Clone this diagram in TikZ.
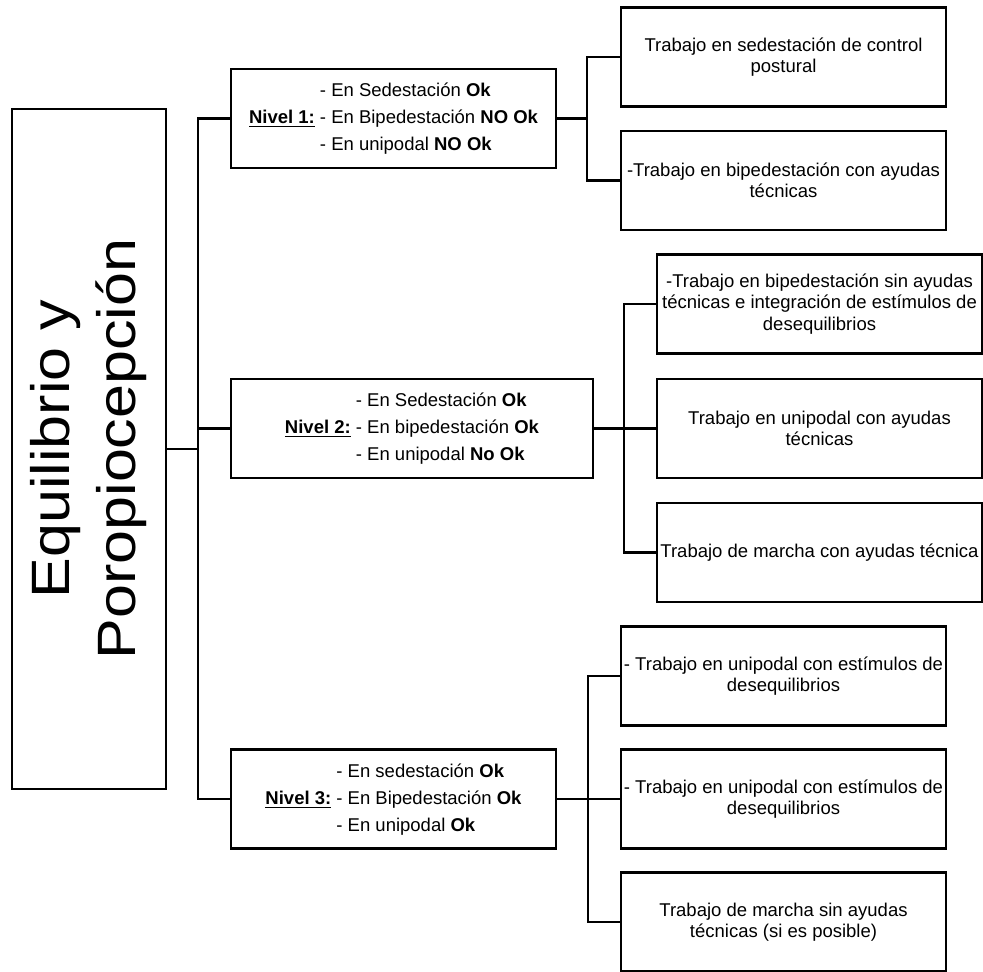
\documentclass[tikz,border=0pt]{standalone}
\usepackage{fontspec}
\setmainfont{Liberation Sans}
\newfontfamily\titulofont[FakeStretch=1.13]{Liberation Sans}
\usetikzlibrary{positioning, calc}

\tikzset{
  caja/.style={draw, line width=1.45pt, inner sep=1pt, align=center, minimum height=49.5pt},
  nivelcaja/.style={caja, font=\fontsize{9.25}{13.5}\selectfont},
  tareacaja/.style={caja, minimum width=162.5pt, font=\fontsize{9.25}{10.6}\selectfont},
  rama/.style={line width=1.45pt, line cap=rect}
}

\begin{document}
\begin{tikzpicture}[x=0.5pt, y=-0.5pt]
  \useasboundingbox (0,0) rectangle (983,972);

  % bloque principal
  \node[caja, minimum width=77pt, minimum height=340pt] (main) at (89,449) {};
  \node[rotate=90, align=center, font=\titulofont\fontsize{27}{33}\selectfont] (titulo) at (main.center)
    {Equilibrio y\\Poropiocepción};

  % niveles
  \node[nivelcaja, minimum width=162.5pt] (n1) at (393.5,118.5) {%
    \begin{tabular}{@{}r@{ }l@{}}
      & - En Sedestación \textbf{Ok}\\
      \textbf{\underline{Nivel 1:}} & - En Bipedestación \textbf{NO Ok}\\
      & - En unipodal \textbf{NO Ok}
    \end{tabular}};
  \node[nivelcaja, minimum width=181pt] (n2) at (412,428.5) {%
    \begin{tabular}{@{}r@{ }l@{}}
      & - En Sedestación \textbf{Ok}\\
      \textbf{\underline{Nivel 2:}} & - En bipedestación \textbf{Ok}\\
      & - En unipodal \textbf{No Ok}
    \end{tabular}};
  \node[nivelcaja, minimum width=162.5pt] (n3) at (393.5,799) {%
    \begin{tabular}{@{}r@{ }l@{}}
      & - En sedestación \textbf{Ok}\\
      \textbf{\underline{Nivel 3:}} & - En Bipedestación \textbf{Ok}\\
      & - En unipodal \textbf{Ok}
    \end{tabular}};

  % tareas nivel 1
  \node[tareacaja] (t11) at (783.5,57) {Trabajo en sedestación de control\\postural};
  \node[tareacaja] (t12) at (783.5,180.5) {-Trabajo en bipedestación con ayudas\\técnicas};

  % tareas nivel 2
  \node[tareacaja] (t21) at (819.5,304) {-Trabajo en bipedestación sin ayudas\\técnicas e integración de estímulos de\\desequilibrios};
  \node[tareacaja] (t22) at (819.5,428.5) {Trabajo en unipodal con ayudas\\técnicas};
  \node[tareacaja] (t23) at (819.5,552.5) {Trabajo de marcha con ayudas técnica};

  % tareas nivel 3
  \node[tareacaja] (t31) at (783.5,676) {- Trabajo en unipodal con estímulos de\\desequilibrios};
  \node[tareacaja] (t32) at (783.5,799) {- Trabajo en unipodal con estímulos de\\desequilibrios};
  \node[tareacaja] (t33) at (783.5,922) {Trabajo de marcha sin ayudas\\técnicas (si es posible)};

  % conexiones
  \coordinate (tronco) at (198,449);
  \coordinate (s1) at (587,118.5);
  \coordinate (s2) at (624,428.5);
  \coordinate (s3) at (588,799);

  \draw[rama] (main.east) -- (tronco);
  \draw[rama] (n1.west) -| (tronco) |- (n3.west);
  \draw[rama] (tronco |- n2.west) -- (n2.west);

  \draw[rama] (n1.east) -- (s1);
  \draw[rama] (t11.west) -| (s1) |- (t12.west);

  \draw[rama] (n2.east) -- (s2);
  \draw[rama] (t21.west) -| (s2) |- (t23.west);
  \draw[rama] (s2) -- (t22.west);

  \draw[rama] (n3.east) -- (s3);
  \draw[rama] (t31.west) -| (s3) |- (t33.west);
  \draw[rama] (s3) -- (t32.west);
\end{tikzpicture}
\end{document}
